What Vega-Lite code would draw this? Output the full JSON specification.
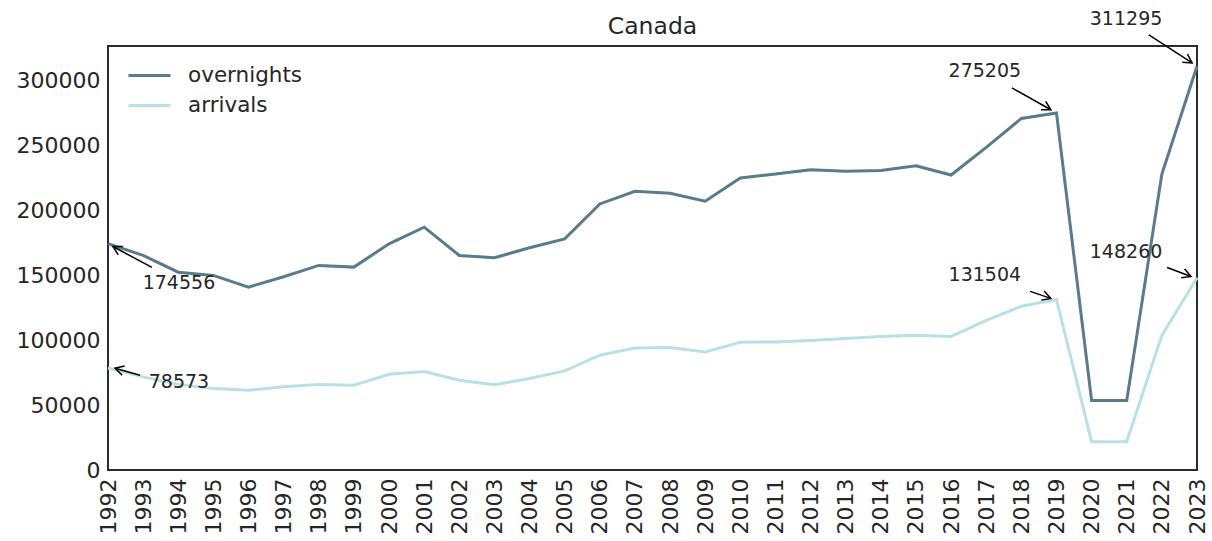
{
  "$schema": "https://vega.github.io/schema/vega-lite/v6.json",
  "autosize": {"type": "none"},
  "width": 1089,
  "height": 424,
  "padding": {"left": 108, "top": 46, "right": 15, "bottom": 71},
  "background": "white",
  "config": {
    "font": "DejaVu Sans",
    "view": {"stroke": "#2b2b2b", "strokeWidth": 2},
    "axis": {"grid": false, "domain": false, "ticks": false, "labelColor": "#262626", "labelFontSize": 22, "labelFont": "DejaVu Sans"},
    "title": {"font": "DejaVu Sans", "fontSize": 23.5, "fontWeight": "normal", "color": "#262626", "offset": -29}
  },
  "title": {"text": "Canada", "anchor": "middle"},
  "datasets": {
    "series": [
      {"year": 1992, "series": "overnights", "value": 174556},
      {"year": 1993, "series": "overnights", "value": 165400},
      {"year": 1994, "series": "overnights", "value": 152500},
      {"year": 1995, "series": "overnights", "value": 150000},
      {"year": 1996, "series": "overnights", "value": 141000},
      {"year": 1997, "series": "overnights", "value": 149000},
      {"year": 1998, "series": "overnights", "value": 157700},
      {"year": 1999, "series": "overnights", "value": 156400},
      {"year": 2000, "series": "overnights", "value": 174400},
      {"year": 2001, "series": "overnights", "value": 187200},
      {"year": 2002, "series": "overnights", "value": 165400},
      {"year": 2003, "series": "overnights", "value": 163600},
      {"year": 2004, "series": "overnights", "value": 171300},
      {"year": 2005, "series": "overnights", "value": 178200},
      {"year": 2006, "series": "overnights", "value": 205100},
      {"year": 2007, "series": "overnights", "value": 214900},
      {"year": 2008, "series": "overnights", "value": 213300},
      {"year": 2009, "series": "overnights", "value": 207200},
      {"year": 2010, "series": "overnights", "value": 225100},
      {"year": 2011, "series": "overnights", "value": 228200},
      {"year": 2012, "series": "overnights", "value": 231500},
      {"year": 2013, "series": "overnights", "value": 230300},
      {"year": 2014, "series": "overnights", "value": 230800},
      {"year": 2015, "series": "overnights", "value": 234600},
      {"year": 2016, "series": "overnights", "value": 227400},
      {"year": 2017, "series": "overnights", "value": 248700},
      {"year": 2018, "series": "overnights", "value": 271000},
      {"year": 2019, "series": "overnights", "value": 275205},
      {"year": 2020, "series": "overnights", "value": 53600},
      {"year": 2021, "series": "overnights", "value": 53600},
      {"year": 2022, "series": "overnights", "value": 228200},
      {"year": 2023, "series": "overnights", "value": 311295},
      {"year": 1992, "series": "arrivals", "value": 78573},
      {"year": 1993, "series": "arrivals", "value": 71800},
      {"year": 1994, "series": "arrivals", "value": 66000},
      {"year": 1995, "series": "arrivals", "value": 62800},
      {"year": 1996, "series": "arrivals", "value": 61500},
      {"year": 1997, "series": "arrivals", "value": 64100},
      {"year": 1998, "series": "arrivals", "value": 65900},
      {"year": 1999, "series": "arrivals", "value": 65400},
      {"year": 2000, "series": "arrivals", "value": 73800},
      {"year": 2001, "series": "arrivals", "value": 75900},
      {"year": 2002, "series": "arrivals", "value": 69200},
      {"year": 2003, "series": "arrivals", "value": 65700},
      {"year": 2004, "series": "arrivals", "value": 70500},
      {"year": 2005, "series": "arrivals", "value": 76400},
      {"year": 2006, "series": "arrivals", "value": 88500},
      {"year": 2007, "series": "arrivals", "value": 94100},
      {"year": 2008, "series": "arrivals", "value": 94400},
      {"year": 2009, "series": "arrivals", "value": 91000},
      {"year": 2010, "series": "arrivals", "value": 98500},
      {"year": 2011, "series": "arrivals", "value": 98700},
      {"year": 2012, "series": "arrivals", "value": 99900},
      {"year": 2013, "series": "arrivals", "value": 101300},
      {"year": 2014, "series": "arrivals", "value": 103000},
      {"year": 2015, "series": "arrivals", "value": 103800},
      {"year": 2016, "series": "arrivals", "value": 103000},
      {"year": 2017, "series": "arrivals", "value": 115400},
      {"year": 2018, "series": "arrivals", "value": 126200},
      {"year": 2019, "series": "arrivals", "value": 131504},
      {"year": 2020, "series": "arrivals", "value": 21800},
      {"year": 2021, "series": "arrivals", "value": 21800},
      {"year": 2022, "series": "arrivals", "value": 103800},
      {"year": 2023, "series": "arrivals", "value": 148260}
    ],
    "notes": [
      {"label": "174556", "textYear": 1994.02, "textValue": 143800, "tailYear": 1993.25, "tailValue": 156150, "headYear": 1992.14, "headValue": 172300},
      {"label": "78573", "textYear": 1994.02, "textValue": 67700, "tailYear": 1992.91, "tailValue": 73080, "headYear": 1992.2, "headValue": 78460},
      {"label": "275205", "textYear": 2016.96, "textValue": 307700, "tailYear": 2017.73, "tailValue": 294600, "headYear": 2018.84, "headValue": 277700},
      {"label": "311295", "textYear": 2020.98, "textValue": 347700, "tailYear": 2021.63, "tailValue": 335400, "headYear": 2022.86, "headValue": 313800},
      {"label": "131504", "textYear": 2016.96, "textValue": 150000, "tailYear": 2018.25, "tailValue": 137700, "headYear": 2018.84, "headValue": 132300},
      {"label": "148260", "textYear": 2020.98, "textValue": 167700, "tailYear": 2022.15, "tailValue": 156150, "headYear": 2022.83, "headValue": 149200}
    ]
  },
  "layer": [
    {
      "data": {"name": "series"},
      "mark": {"type": "line", "strokeWidth": 3},
      "encoding": {
        "x": {"field": "year", "type": "quantitative", "scale": {"domain": [1992, 2023], "nice": false, "zero": false},
              "axis": {"title": null, "values": [1992,1993,1994,1995,1996,1997,1998,1999,2000,2001,2002,2003,2004,2005,2006,2007,2008,2009,2010,2011,2012,2013,2014,2015,2016,2017,2018,2019,2020,2021,2022,2023], "format": "d", "labelAngle": 270, "labelPadding": 8, "labelOverlap": false, "labelFlush": false}},
        "y": {"field": "value", "type": "quantitative", "scale": {"domain": [0, 326860], "nice": false},
              "axis": {"title": null, "values": [0, 50000, 100000, 150000, 200000, 250000, 300000], "format": "d", "labelPadding": 8}},
        "color": {"field": "series", "type": "nominal", "sort": ["overnights", "arrivals"],
                  "scale": {"domain": ["overnights", "arrivals"], "range": ["#5a7b8c", "#b9e1e5"]},
                  "legend": {"title": null, "orient": "none", "legendX": 25, "legendY": 13, "symbolType": "M-1.4,0L1.4,0", "symbolSize": 900, "symbolStrokeWidth": 3, "labelFontSize": 21.5, "labelColor": "#262626", "labelOffset": 22, "rowPadding": 3, "padding": 0}}
      }
    },
    {
      "data": {"name": "notes"},
      "mark": {"type": "rule", "color": "black", "strokeWidth": 1.5},
      "encoding": {
        "x": {"field": "tailYear", "type": "quantitative",
              "axis": {"title": null, "values": [1992,1993,1994,1995,1996,1997,1998,1999,2000,2001,2002,2003,2004,2005,2006,2007,2008,2009,2010,2011,2012,2013,2014,2015,2016,2017,2018,2019,2020,2021,2022,2023], "format": "d", "labelAngle": 270, "labelPadding": 8, "labelOverlap": false, "labelFlush": false}},
        "y": {"field": "tailValue", "type": "quantitative",
              "axis": {"title": null, "values": [0, 50000, 100000, 150000, 200000, 250000, 300000], "format": "d", "labelPadding": 8}},
        "x2": {"field": "headYear"},
        "y2": {"field": "headValue"}
      }
    },
    {
      "data": {"name": "notes"},
      "transform": [
        {"calculate": "atan2((datum.headYear - datum.tailYear) * 35.13, (datum.headValue - datum.tailValue) * 0.0013) * 180 / PI", "as": "ang"}
      ],
      "mark": {"type": "point", "shape": "M-0.55,1 L0,0 L0.55,1", "filled": false, "stroke": "black", "strokeWidth": 1.5, "size": 300, "opacity": 1},
      "encoding": {
        "x": {"field": "headYear", "type": "quantitative",
              "axis": {"title": null, "values": [1992,1993,1994,1995,1996,1997,1998,1999,2000,2001,2002,2003,2004,2005,2006,2007,2008,2009,2010,2011,2012,2013,2014,2015,2016,2017,2018,2019,2020,2021,2022,2023], "format": "d", "labelAngle": 270, "labelPadding": 8, "labelOverlap": false, "labelFlush": false}},
        "y": {"field": "headValue", "type": "quantitative",
              "axis": {"title": null, "values": [0, 50000, 100000, 150000, 200000, 250000, 300000], "format": "d", "labelPadding": 8}},
        "angle": {"field": "ang", "type": "quantitative", "scale": null}
      }
    },
    {
      "data": {"name": "notes"},
      "mark": {"type": "text", "fontSize": 19, "color": "#262626", "align": "center", "baseline": "middle"},
      "encoding": {
        "x": {"field": "textYear", "type": "quantitative",
              "axis": {"title": null, "values": [1992,1993,1994,1995,1996,1997,1998,1999,2000,2001,2002,2003,2004,2005,2006,2007,2008,2009,2010,2011,2012,2013,2014,2015,2016,2017,2018,2019,2020,2021,2022,2023], "format": "d", "labelAngle": 270, "labelPadding": 8, "labelOverlap": false, "labelFlush": false}},
        "y": {"field": "textValue", "type": "quantitative",
              "axis": {"title": null, "values": [0, 50000, 100000, 150000, 200000, 250000, 300000], "format": "d", "labelPadding": 8}},
        "text": {"field": "label"}
      }
    }
  ]
}
